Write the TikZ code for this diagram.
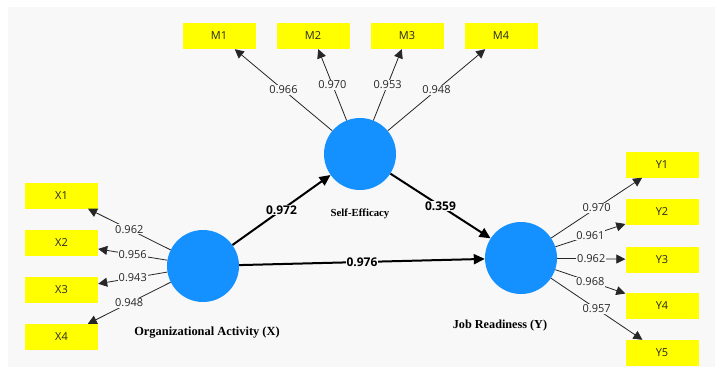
\documentclass[tikz,border=0pt]{standalone}
\usepackage{fontspec}
\setmainfont{Open Sans}
\newfontfamily\lvfont{Liberation Serif}
\usetikzlibrary{arrows.meta}
\definecolor{bgc}{HTML}{F8F8F8}
\definecolor{lvblue}{RGB}{20,144,255}
\definecolor{indyellow}{HTML}{FFFF00}
\begin{document}
\begin{tikzpicture}[x=1pt,y=-1pt,
 indbox/.style={fill=indyellow, minimum width=73pt, minimum height=26pt, inner sep=0pt, text=black!85, font=\fontsize{11}{13}\selectfont},
 lvcirc/.style={circle, fill=lvblue, minimum size=72pt, inner sep=0pt},
 loadarrow/.style={draw=black!85, line width=0.8pt, -{Triangle[length=9pt,width=9pt]}},
 strarrow/.style={draw=black, line width=2pt, -{Triangle[length=11pt,width=10pt]}},
 lbl/.style={fill=bgc, inner sep=1pt, text=black!85, font=\fontsize{11}{13}\selectfont},
 plbl/.style={fill=bgc, inner sep=1pt, font=\bfseries\fontsize{12}{14}\selectfont},
 lvname/.style={font=\lvfont\bfseries\fontsize{12.4}{14}\selectfont}
]
\useasboundingbox (0,0) rectangle (715,370);
\fill[white] (0,0) rectangle (715,370);
\fill[bgc] (8,7) rectangle (715,367);

\node[lvcirc] (se) at (360,154) {};
\node[lvcirc] (oa) at (203,266) {};
\node[lvcirc] (jr) at (521,258) {};

\node[lvname, font=\lvfont\bfseries\fontsize{10.8}{12}\selectfont] (sel) at (360,214) {Self-Efficacy};
\node[lvname] (oal) at (207,333) {Organizational Activity (X)};
\node[lvname, font=\lvfont\bfseries\fontsize{12.2}{14}\selectfont] (jrl) at (500,326) {Job Readiness (Y)};

\node[indbox] (m1) at (219,36) {M1};
\node[indbox] (m2) at (313,36) {M2};
\node[indbox] (m3) at (407,36) {M3};
\node[indbox] (m4) at (501,36) {M4};

\node[indbox] (x1) at (61.5,195.5) {X1};
\node[indbox] (x2) at (61.5,243) {X2};
\node[indbox] (x3) at (61.5,290) {X3};
\node[indbox] (x4) at (61.5,337) {X4};

\node[indbox] (y1) at (662,164.5) {Y1};
\node[indbox] (y2) at (662,212) {Y2};
\node[indbox] (y3) at (662,259.5) {Y3};
\node[indbox] (y4) at (662,306) {Y4};
\node[indbox] (y5) at (662,353) {Y5};

\draw[loadarrow] (se) -- node[lbl] {0.966} (m1);
\draw[loadarrow] (se) -- node[lbl] {0.970} (m2);
\draw[loadarrow] (se) -- node[lbl] {0.953} (m3);
\draw[loadarrow] (se) -- node[lbl] {0.948} (m4);

\draw[loadarrow] (oa) -- node[lbl] {0.962} (x1);
\draw[loadarrow] (oa) -- node[lbl] {0.956} (x2);
\draw[loadarrow] (oa) -- node[lbl] {0.943} (x3);
\draw[loadarrow] (oa) -- node[lbl] {0.948} (x4);

\draw[loadarrow] (jr) -- node[lbl] {0.970} (y1);
\draw[loadarrow] (jr) -- node[lbl] {0.961} (y2);
\draw[loadarrow] (jr) -- node[lbl] {0.962} (y3);
\draw[loadarrow] (jr) -- node[lbl] {0.968} (y4);
\draw[loadarrow] (jr) -- node[lbl] {0.957} (y5);

\draw[strarrow] (oa) -- node[plbl] {0.972} (se);
\draw[strarrow] (se) -- node[plbl] {0.359} (jr);
\draw[strarrow] (oa) -- node[plbl] {0.976} (jr);
\end{tikzpicture}
\end{document}
